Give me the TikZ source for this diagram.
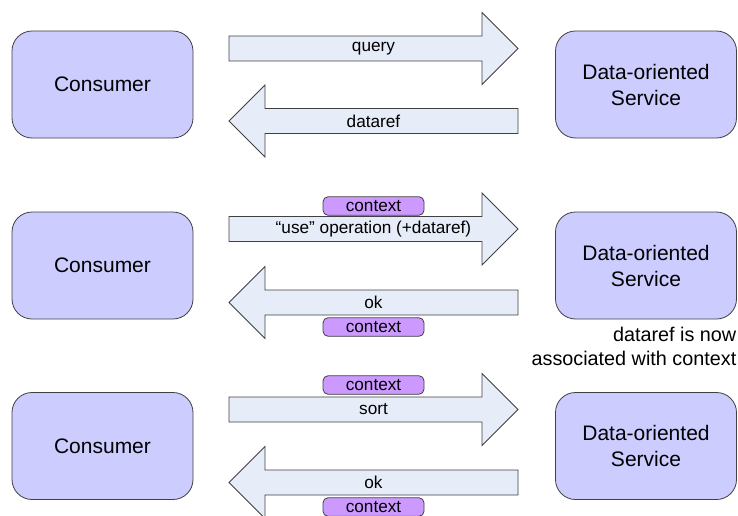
\documentclass[tikz,border=0pt]{standalone}
\usepackage{fontspec}
\setmainfont{Liberation Sans}
\definecolor{boxfill}{HTML}{CCCCFF}
\definecolor{arrfill}{HTML}{E6ECF8}
\definecolor{pillfill}{HTML}{CC99FF}
\definecolor{edge}{HTML}{404040}
\newcommand{\blockR}[3]{% name, center y, label
  \draw[arrstyle] (229,#2-12.5) -- (482,#2-12.5) -- (482,#2-36) -- (518,#2) -- (482,#2+36) -- (482,#2+12.5) -- (229,#2+12.5) -- cycle;
  \node[lbl] (#1) at (373.5,#2) {#3};}
\newcommand{\blockL}[3]{%
  \draw[arrstyle] (518,#2-12.5) -- (265,#2-12.5) -- (265,#2-36) -- (229,#2) -- (265,#2+36) -- (265,#2+12.5) -- (518,#2+12.5) -- cycle;
  \node[lbl] (#1) at (373.5,#2) {#3};}
\tikzset{
  actor/.style={draw=edge, fill=boxfill, rounded corners=20pt, minimum width=181pt, minimum height=107pt, font=\fontsize{21}{26}\selectfont, align=center, line width=0.8pt, inner sep=0pt},
  arrstyle/.style={draw=edge, fill=arrfill, line width=0.8pt, line join=miter},
  lbl/.style={font=\fontsize{17.2}{19}\selectfont, inner sep=0pt},
  pill/.style={draw=edge, fill=pillfill, rounded corners=5pt, minimum width=101pt, minimum height=18.5pt, inner sep=0pt, font=\fontsize{17.2}{19}\selectfont, line width=0.8pt},
  note/.style={font=\fontsize{19.8}{24}\selectfont, align=right, inner sep=0pt}
}
\begin{document}
\begin{tikzpicture}[x=1pt,y=-1pt]
\useasboundingbox (0,0) rectangle (738,516);
% row 1
\node[actor] (c1) at (102.5,84.5) {Consumer};
\node[actor] (s1) at (646,84.5) {Data-oriented\\Service};
\blockR{q1}{48.5}{query}
\blockL{d1}{121}{dataref}
% row 2
\node[actor] (c2) at (102.5,265.5) {Consumer};
\node[actor] (s2) at (646,265.5) {Data-oriented\\Service};
\blockR{u2}{229}{“use” operation (+dataref)}
\blockL{o2}{302.5}{ok}
\node[pill] (p2a) at (373.5,206) {context};
\node[pill] (p2b) at (373.5,327) {context};
\node[note, anchor=north east] (n2) at (736.5,327) {dataref is now\\associated with context};
% row 3
\node[actor] (c3) at (102.5,446) {Consumer};
\node[actor] (s3) at (646,446) {Data-oriented\\Service};
\blockR{s3a}{409.5}{sort}
\blockL{o3}{482.5}{ok}
\node[pill] (p3a) at (373.5,385) {context};
\node[pill] (p3b) at (373.5,507) {context};
\end{tikzpicture}
\end{document}
